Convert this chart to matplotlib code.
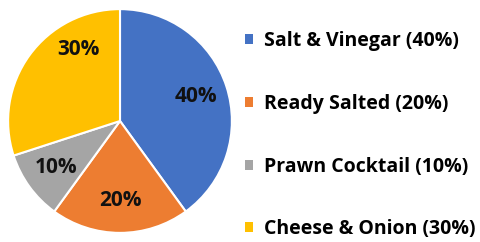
import numpy as np
import matplotlib

matplotlib.use("Agg")
import matplotlib.pyplot as plt

categories = ["Salt & Vinegar", "Ready Salted", "Prawn Cocktail", "Cheese & Onion"]
shares = [40, 20, 10, 30]
colors = ["#4472C4", "#ED7D31", "#A5A5A5", "#FFC000"]

plt.rcParams["font.family"] = ["Open Sans", "DejaVu Sans"]

fig = plt.figure(figsize=(4.81, 2.42), dpi=100)
ax = fig.add_axes([7 / 481, 8 / 242, 226 / 481, 226 / 242])

wedges, texts, autotexts = ax.pie(
    shares,
    colors=colors,
    startangle=90,
    counterclock=False,
    autopct="%d%%",
    pctdistance=0.71,
    wedgeprops=dict(edgecolor="white", linewidth=1.5),
    textprops=dict(fontsize=15, fontweight="bold", color="#111111"),
)
ax.set_xlim(-1.01, 1.01)
ax.set_ylim(-1.01, 1.01)
ax.set_aspect("equal")

# 30% label sits higher than the wedge middle
ang = np.deg2rad(120)
autotexts[3].set_position((0.74 * np.cos(ang), 0.74 * np.sin(ang)))

labels = [f"{c} ({s}%)" for c, s in zip(categories, shares)]
leg = fig.legend(
    wedges,
    labels,
    loc="upper left",
    bbox_to_anchor=(245 / 481, 1 - 31 / 242),
    frameon=False,
    prop=dict(size=14, weight="bold"),
    handlelength=0.4,
    handleheight=0.4,
    handletextpad=0.6,
    labelspacing=2.2,
    borderpad=0,
    borderaxespad=0,
)
for h in leg.legend_handles:
    h.set_edgecolor("none")

fig.savefig("out.png", dpi=100)
